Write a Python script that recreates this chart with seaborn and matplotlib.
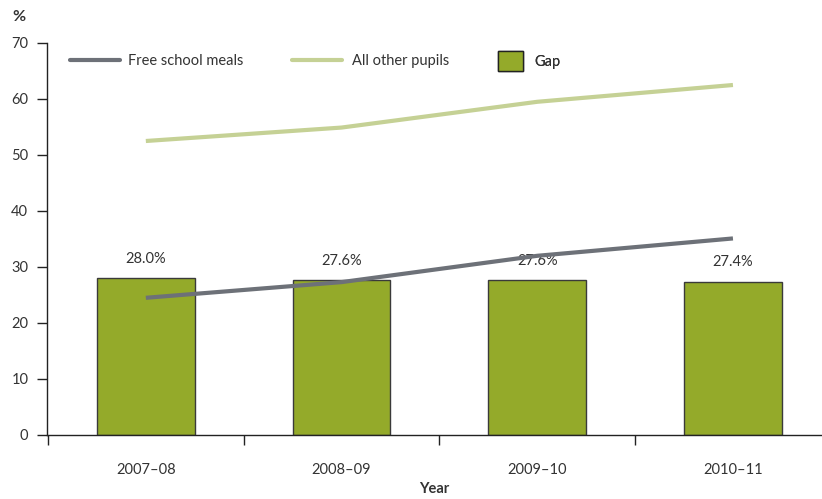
import numpy as np
import matplotlib
matplotlib.use("Agg")
import matplotlib.pyplot as plt
import seaborn as sns
import pandas as pd
from matplotlib.lines import Line2D
from matplotlib.patches import Patch

years = ["2007–08", "2008–09", "2009–10", "2010–11"]
fsm = [24.5, 27.3, 32.0, 35.1]
other = [52.5, 54.9, 59.5, 62.5]
gap = [28.0, 27.6, 27.6, 27.4]
gap_labels = ["28.0%", "27.6%", "27.6%", "27.4%"]
yticks = [0, 10, 20, 30, 40, 50, 60, 70]

sns.set_theme(style="white")
plt.rcParams["font.family"] = ["Lato", "DejaVu Sans"]
TXT = "#333333"
FS = 10.5

fig = plt.figure(figsize=(8.22, 4.99), dpi=100)
ax = fig.add_axes([47 / 822, 64 / 499, 1 - 47 / 822, (435 - 43) / 499])

df = pd.DataFrame({"Year": years, "Gap": gap})
sns.barplot(data=df, x="Year", y="Gap", color="#94aa2a", saturation=1,
            width=0.5, edgecolor="#3a3a3a", linewidth=1.0, ax=ax, zorder=2)

pos = np.arange(len(years))
ax.plot(pos, other, color="#c5d195", lw=3.0, zorder=4, solid_capstyle="butt")
ax.plot(pos, fsm, color="#6d7178", lw=3.0, zorder=4, solid_capstyle="butt")

for p, v, lab in zip(pos, gap, gap_labels):
    ax.annotate(lab, (p, v), xytext=(0, 9), textcoords="offset points",
                ha="center", va="bottom", fontsize=FS, color=TXT, zorder=3)

ax.set_xlim(-0.505, 3.455)
ax.set_ylim(0, 70)
ax.set_yticks(yticks)
ax.set_yticklabels([str(t) for t in yticks], fontsize=FS, color=TXT)
ax.set_xticks(pos)
ax.set_xticklabels(years, fontsize=FS, color=TXT)
ax.set_xticks(np.arange(len(years)) - 0.5, minor=True)
ax.tick_params(axis="x", which="major", length=0, pad=20)
ax.tick_params(axis="x", which="minor", length=7.5, width=1, color="#222222", direction="out", bottom=True)
ax.tick_params(axis="y", which="major", length=7.5, width=1, color="#222222", direction="out", left=True, pad=6)

for s in ["top", "right"]:
    ax.spines[s].set_visible(False)
for s in ["left", "bottom"]:
    ax.spines[s].set_color("#222222")
    ax.spines[s].set_linewidth(1.0)

ax.set_ylabel("")
ax.set_xlabel("Year", fontsize=FS, fontweight="bold", color=TXT, labelpad=4)
fig.text(12 / 822, 1 - 17 / 499, "%", fontsize=FS + 1, fontweight="bold", color=TXT,
         ha="left", va="center")

def add_leg(handle, label, x, hl, hh, pad):
    leg = ax.legend([handle], [label], loc="center left",
                    bbox_to_anchor=(x / 822, 1 - 61 / 499), bbox_transform=fig.transFigure,
                    frameon=False, borderpad=0, borderaxespad=0, handlelength=hl,
                    handleheight=hh, handletextpad=pad, fontsize=FS,
                    labelcolor=TXT)
    ax.add_artist(leg)

add_leg(Line2D([], [], color="#6d7178", lw=3.0), "Free school meals", 70, 3.43, 0.7, 0.55)
add_leg(Line2D([], [], color="#c5d195", lw=3.0), "All other pupils", 292, 3.43, 0.7, 0.65)
add_leg(Patch(facecolor="#94aa2a", edgecolor="#222222", linewidth=1.0), "Gap", 498, 1.7, 1.7, 0.8)

fig.savefig("out.png", dpi=100)
